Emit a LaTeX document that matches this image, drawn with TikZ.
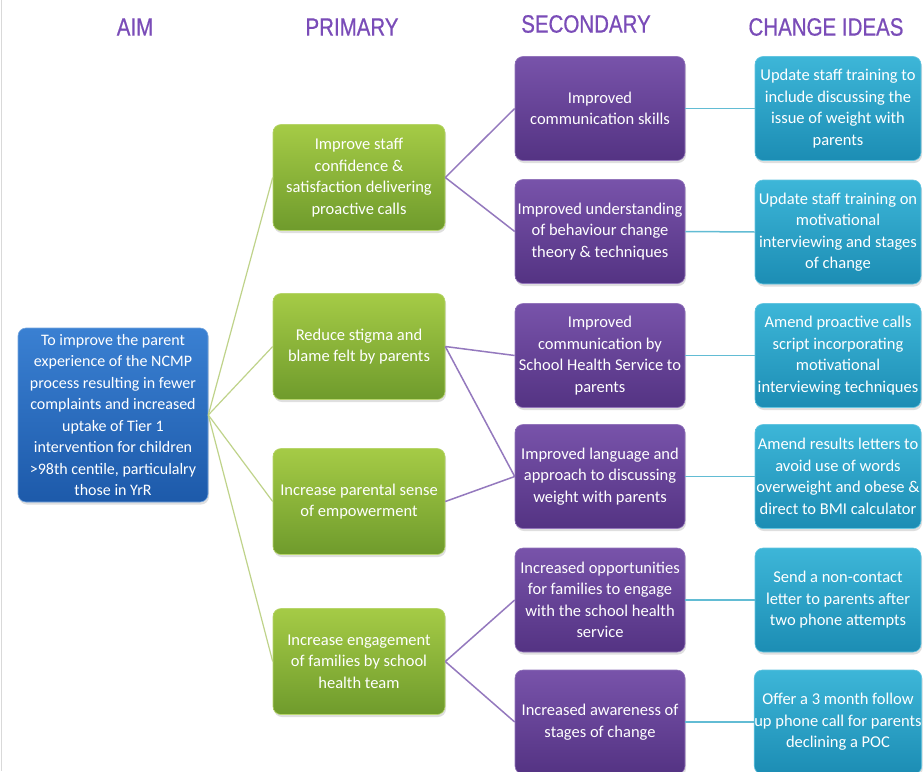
\documentclass[tikz,border=0pt]{standalone}
\usepackage{fontspec}
\setmainfont{Carlito}
\newfontfamily\headfont[FakeStretch=0.82,FakeBold=0.6]{Liberation Sans}
\usetikzlibrary{shadows}

\definecolor{headpurple}{HTML}{7A4CB8}
\definecolor{aimtop}{HTML}{3A80D2}
\definecolor{aimbot}{HTML}{1D5AAA}
\definecolor{primtop}{HTML}{A5CB46}
\definecolor{primbot}{HTML}{6F9B2C}
\definecolor{sectop}{HTML}{7853AA}
\definecolor{secbot}{HTML}{543383}
\definecolor{chgtop}{HTML}{3DB6D8}
\definecolor{chgbot}{HTML}{1C8DB4}
\definecolor{linkgreen}{HTML}{BFD38A}
\definecolor{linkpurple}{HTML}{9479BE}
\definecolor{linkcyan}{HTML}{62BCD4}

\tikzset{
  box/.style={rounded corners=8pt, inner sep=0pt, align=center,
    text=white, font=\fontsize{16.5}{21.5}\selectfont,
    drop shadow={opacity=0.25, shadow xshift=1pt, shadow yshift=-2.5pt}},
  aimbox/.style={box, minimum width=190pt, minimum height=174pt,
    font=\fontsize{16}{21.5}\selectfont,
    top color=aimtop, bottom color=aimbot, draw=aimtop!70!white, line width=0.6pt},
  primbox/.style={box, minimum width=172pt, minimum height=106pt,
    top color=primtop, bottom color=primbot, draw=primtop!80!white, line width=0.6pt},
  secbox/.style={box, minimum width=170pt, minimum height=104pt,
    top color=sectop, bottom color=secbot, draw=sectop!80!white, line width=0.6pt},
  chgbox/.style={box, minimum width=166pt, minimum height=104pt,
    top color=chgtop, bottom color=chgbot, draw=chgtop!80!white, line width=0.6pt},
  header/.style={text=headpurple, font=\headfont\fontsize{25}{28}\selectfont},
  aimlink/.style={draw=linkgreen, line width=1.2pt},
  seclink/.style={draw=linkpurple, line width=1.5pt},
  chglink/.style={draw=linkcyan, line width=1.5pt}
}

\begin{document}
\begin{tikzpicture}[x=1pt, y=-1pt]
\useasboundingbox (0,0) rectangle (923,771);
\fill[white] (0,0) rectangle (923,771);
\draw[black!15, line width=1.2pt] (1.5,0) -- (1.5,771);

% column headings
\node[header] (hAim)  at (135,27) {AIM};
\node[header] (hPrim) at (352,27) {PRIMARY};
\node[header] (hSec)  at (586,24) {SECONDARY};
\node[header] (hChg)  at (826,27) {CHANGE IDEAS};

% aim
\node[aimbox] (aim) at (113,415) {To improve the parent\\experience of the NCMP\\process resulting in fewer\\complaints and increased\\uptake of Tier 1\\intervention for children\\>98th centile, particulalry\\those in YrR};

% primary drivers
\node[primbox] (p1) at (359,177.5) {Improve staff\\confidence \&\\satisfaction delivering\\proactive calls};
\node[primbox] (p2) at (359,346.5) {Reduce stigma and\\blame felt by parents};
\node[primbox] (p3) at (359,501.5) {Increase parental sense\\of empowerment};
\node[primbox] (p4) at (359,661.5) {Increase engagement\\of families by school\\health team};

% secondary drivers
\node[secbox] (s1) at (600,108.5) {Improved\\communication skills};
\node[secbox] (s2) at (600,231.5) {Improved understanding\\of behaviour change\\theory \& techniques};
\node[secbox] (s3) at (600,355.5) {Improved\\communication by\\School Health Service to\\parents};
\node[secbox] (s4) at (600,476.5) {Improved language and\\approach to discussing\\weight with parents};
\node[secbox] (s5) at (600,600)   {Increased opportunities\\for families to engage\\with the school health\\service};
\node[secbox] (s6) at (600,722)   {Increased awareness of\\stages of change};

% change ideas
\node[chgbox] (c1) at (838,108.5) {Update staff training to\\include discussing the\\issue of weight with\\parents};
\node[chgbox] (c2) at (838,232)   {Update staff training on\\motivational\\interviewing and stages\\of change};
\node[chgbox] (c3) at (838,355.5) {Amend proactive calls\\script incorporating\\motivational\\interviewing techniques};
\node[chgbox] (c4) at (838,476.5) {Amend results letters to\\avoid use of words\\overweight and obese \&\\direct to BMI calculator};
\node[chgbox] (c5) at (838,600)   {Send a non-contact\\letter to parents after\\two phone attempts};
\node[chgbox] (c6) at (838,722)   {Offer a 3 month follow\\up phone call for parents\\declining a POC};

% connectors between the columns
\foreach \p in {p1,p2,p3,p4}
  \draw[aimlink] (aim.east) -- (\p.west);
\draw[seclink] (p1.east) -- (s1.west);
\draw[seclink] (p1.east) -- (s2.west);
\draw[seclink] (p2.east) -- (s3.west);
\draw[seclink] (p2.east) -- (s4.west);
\draw[seclink] (p3.east) -- (s4.west);
\draw[seclink] (p4.east) -- (s5.west);
\draw[seclink] (p4.east) -- (s6.west);
\foreach \i in {1,...,6}
  \draw[chglink] (s\i.east) -- (c\i.west);
\end{tikzpicture}
\end{document}
